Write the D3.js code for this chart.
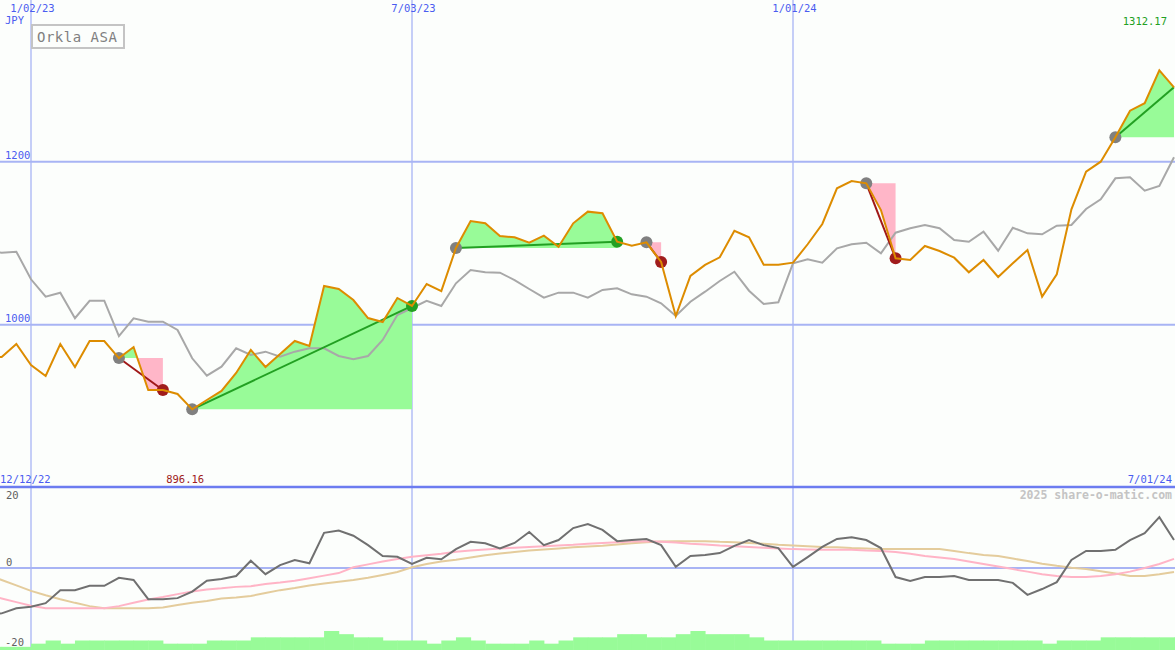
<!DOCTYPE html>
<html><head><meta charset="utf-8">
<script src="https://cdn.jsdelivr.net/npm/d3@7"></script>
<style>
html,body{margin:0;padding:0;background:#fcfefc;}
svg{display:block;font-family:"DejaVu Sans Mono",monospace;}
</style></head><body>
<svg id="c" width="1175" height="650"></svg>
<script>
// ---------- DATA (weekly, Mondays, 12/12/22 .. 7/01/24) ----------
const firstWeek = "2022-12-12";
const lastWeek = "2024-07-01";
const price = [960, 960.4, 976.3, 950.6, 937.1, 976.3, 948.1, 980.0, 980.0, 959.1,
  972.6, 919.9, 919.9, 915.0, 896.16, 907.6, 918.7, 940.8, 969.0, 948.1,
  964.0, 980.0, 973.9, 1047.5, 1043.8, 1030.3, 1008.2, 1003.3, 1032.8, 1023.0,
  1049.9, 1041.3, 1094.1, 1127.2, 1124.4, 1108.8, 1107.2, 1100.6, 1109.2, 1095.7,
  1124.4, 1138.7, 1136.7, 1101.8, 1096.9, 1101.1, 1076.9, 1010.7, 1059.8, 1073.3,
  1082.7, 1115.3, 1107.2, 1073.6, 1073.6, 1076.1, 1098.7, 1123.6, 1167.4, 1176.3,
  1173.5, 1140.7, 1081.5, 1079.4, 1096.6, 1090.4, 1082.2, 1064.3, 1079.4, 1058.5,
  1075.3, 1091.7, 1034.4, 1061.8, 1141.6, 1187.7, 1200.0, 1229.9, 1262.6, 1271.7,
  1312.17, 1291.3];
const benchmark = [1090, 1088.3, 1089.6, 1055.7, 1034.4, 1039.3, 1007.9, 1029.4, 1029.4, 986.1,
  1007.9, 1003.7, 1003.7, 993.5, 958.8, 937.4, 948.5, 971.0, 962.8, 966.9,
  960.7, 966.9, 971.0, 971.0, 961.6, 957.5, 961.6, 981.2, 1011.9, 1020.5,
  1029.4, 1022.9, 1050.8, 1067.1, 1064.3, 1063.8, 1054.8, 1043.8, 1033.1, 1039.3,
  1039.3, 1033.1, 1042.6, 1044.7, 1037.3, 1034.4, 1026.3, 1010.7, 1028.2, 1040.5,
  1053.6, 1065.0, 1041.7, 1025.4, 1027.5, 1075.3, 1080.2, 1076.1, 1093.7, 1098.7,
  1100.6, 1087.6, 1112.9, 1118.3, 1122.3, 1118.3, 1103.9, 1101.8, 1114.1, 1090.8,
  1119.0, 1112.1, 1110.9, 1121.5, 1122.3, 1142.0, 1153.9, 1179.6, 1180.9, 1164.4,
  1170.2, 1205.4];
const momentum = [-13, -12.5, -11.1, -10.7, -9.7, -6.1, -6.1, -4.9, -4.9, -2.7,
  -3.3, -8.6, -8.6, -8.3, -6.5, -3.5, -3.0, -2.2, 2.0, -1.7,
  0.8, 2.2, 1.3, 9.7, 10.3, 8.9, 6.3, 3.3, 3.1, 1.1,
  2.8, 2.4, 5.2, 7.2, 6.8, 5.4, 6.9, 9.9, 6.3, 7.7,
  11.0, 12.1, 10.5, 7.4, 7.7, 8.0, 6.3, 0.3, 3.3, 3.6,
  4.1, 6.1, 7.7, 6.3, 5.5, 0.3, 3.0, 5.8, 8.0, 8.5,
  7.7, 5.5, -2.5, -3.6, -2.5, -2.5, -2.2, -3.3, -3.3, -3.3,
  -4.1, -7.4, -5.8, -3.9, 2.2, 4.7, 4.7, 5.0, 7.7, 9.6,
  14.0, 7.7];
const maFast = [-7.4, -8.4, -9.4, -10.4, -11.1, -11.1, -11.1, -11.1, -11.1, -10.5,
  -9.6, -8.7, -8.0, -7.2, -6.5, -5.9, -5.6, -5.2, -5.0, -4.4,
  -4.0, -3.5, -2.8, -2.1, -1.4, 0.2, 1.0, 1.8, 2.5, 3.1,
  3.5, 3.9, 4.5, 4.8, 5.1, 5.4, 5.6, 5.8, 6.0, 6.2,
  6.4, 6.7, 6.9, 7.1, 7.3, 7.4, 7.2, 7.0, 6.7, 6.5,
  6.2, 6.0, 5.8, 5.6, 5.4, 5.2, 5.1, 5.0, 5.0, 5.0,
  4.8, 4.7, 4.4, 3.9, 3.3, 2.9, 2.5, 1.8, 1.1, 0.4,
  -0.3, -1.0, -1.7, -2.2, -2.5, -2.5, -2.2, -1.7, -1.0, 0,
  1.1, 2.5];
const maSlow = [-1.8, -3.3, -4.8, -6.3, -7.5, -8.6, -9.6, -10.5, -11.1, -11.1,
  -11.1, -11.1, -10.9, -10.2, -9.6, -9.1, -8.4, -8.1, -7.7, -6.9,
  -6.1, -5.5, -4.8, -4.3, -3.8, -3.3, -2.7, -1.9, -1.1, 0.2,
  1.1, 1.8, 2.3, 2.9, 3.5, 4.0, 4.4, 4.8, 5.1, 5.4,
  5.7, 5.9, 6.1, 6.5, 6.8, 7.1, 7.3, 7.4, 7.4, 7.4,
  7.2, 7.1, 6.9, 6.7, 6.4, 6.2, 6.0, 5.8, 5.7, 5.5,
  5.4, 5.2, 5.2, 5.2, 5.2, 5.2, 4.7, 4.1, 3.6, 3.3,
  2.6, 1.9, 1.2, 0.6, 0.1, -0.3, -0.9, -1.5, -2.2, -2.2,
  -1.7, -1.1];
const volume = [1, 1, 1, 2, 3, 2, 3, 3, 3, 3,
  3, 3, 2, 2, 2, 3, 3, 3, 4, 4,
  4, 4, 4, 6, 5, 4, 4, 3, 3, 3,
  2, 3, 4, 3, 2, 2, 2, 3, 2, 3,
  4, 4, 4, 5, 5, 4, 4, 5, 6, 5,
  5, 5, 4, 3, 3, 3, 3, 3, 3, 3,
  3, 2, 2, 2, 3, 3, 3, 3, 3, 3,
  3, 3, 2, 3, 3, 3, 4, 4, 4, 4,
  4, 4];
const tradeEntries = ["2023-02-13", "2023-03-20", "2023-07-24", "2023-10-23", "2024-02-05", "2024-06-03"];
const tradeExits   = ["2023-03-06", "2023-07-03", "2023-10-09", "2023-10-30", "2024-02-19", null];
const dateTicks = ["2023-01-02", "2023-07-03", "2024-01-01"];
const priceTicks = [1000, 1200];
const lowerTicks = [20, 0, -20];
const title = "Orkla ASA";
const currency = "JPY";

// ---------- SETUP ----------
const W = 1175, H = 650;
const svg = d3.select("#c");
const parse = d3.utcParse("%Y-%m-%d");
const fmt = d3.utcFormat("%-m/%d/%y");
const dates = d3.utcMonday.range(parse(firstWeek), d3.utcDay.offset(parse(lastWeek), 1));
const x = d3.scaleUtc().domain([parse("2023-01-02"), parse("2024-01-01")]).range([31, 793]);
const y = d3.scaleLinear().domain([1000, 1200]).range([324.7, 161.7]);
const ly = d3.scaleLinear().domain([-20, 20]).range([640.6, 495.4]);
const vy = d3.scaleLinear().domain([0, 6]).range([650, 631]);

const BLUE_GRID = "#a8b4f4", BLUE_TXT = "#4a5cf0";

svg.append("rect").attr("width", W).attr("height", H).attr("fill", "#fcfefc");
const defs = svg.append("defs");
defs.append("clipPath").attr("id", "clipTop").append("rect").attr("x", 0).attr("y", 0).attr("width", W).attr("height", 486);
defs.append("clipPath").attr("id", "clipBot").append("rect").attr("x", 0).attr("y", 488).attr("width", W).attr("height", 162);

// gridlines
const grid = svg.append("g");
grid.selectAll("line.v").data(dateTicks).join("line")
  .attr("x1", d => x(parse(d))).attr("x2", d => x(parse(d)))
  .attr("y1", 0).attr("y2", H).attr("stroke", BLUE_GRID).attr("stroke-width", 1.3);
grid.selectAll("line.h").data(priceTicks).join("line")
  .attr("x1", 0).attr("x2", W).attr("y1", d => y(d)).attr("y2", d => y(d))
  .attr("stroke", BLUE_GRID).attr("stroke-width", 2);
grid.append("line").attr("x1", 0).attr("x2", W).attr("y1", ly(0)).attr("y2", ly(0))
  .attr("stroke", BLUE_GRID).attr("stroke-width", 2);

// ---------- BOTTOM PANEL ----------
const botG = svg.append("g").attr("clip-path", "url(#clipBot)");
botG.selectAll("rect.vol").data(volume).join("rect")
  .attr("x", (d, i) => x(dates[i]))
  .attr("width", (d, i) => (i < dates.length - 1 ? x(dates[i + 1]) - x(dates[i]) : 20) + 0.5)
  .attr("y", d => vy(d)).attr("height", d => 650 - vy(d))
  .attr("fill", "#98fb98");
const lline = arr => d3.line().x((d, i) => x(dates[i])).y(d => ly(d))(arr);
botG.append("path").attr("d", lline(maSlow)).attr("fill", "none").attr("stroke", "#e4cc9c").attr("stroke-width", 2);
botG.append("path").attr("d", lline(maFast)).attr("fill", "none").attr("stroke", "#ffb4c6").attr("stroke-width", 2);
botG.append("path").attr("d", lline(momentum)).attr("fill", "none").attr("stroke", "#707070").attr("stroke-width", 2);

// ---------- TOP PANEL ----------
const topG = svg.append("g").attr("clip-path", "url(#clipTop)");
const idx = s => dates.findIndex(d => +d === +parse(s));

function tradePoints(i0, i1, level) {
  const pts = [];
  for (let j = i0; j <= i1; j++) {
    pts.push({t: +dates[j], v: price[j]});
    if (j < i1) {
      const a = price[j] - level, b = price[j + 1] - level;
      if (a * b < 0) {
        const f = a / (a - b);
        pts.push({t: +dates[j] + (dates[j + 1] - dates[j]) * f, v: level});
      }
    }
  }
  return pts;
}
const trades = tradeEntries.map((e, n) => {
  const i0 = idx(e);
  const i1 = tradeExits[n] ? idx(tradeExits[n]) : dates.length - 1;
  return {i0, i1, open: !tradeExits[n], level: price[i0]};
});
trades.forEach(tr => {
  const pts = tradePoints(tr.i0, tr.i1, tr.level);
  const areaUp = d3.area().x(d => x(new Date(d.t))).y0(y(tr.level)).y1(d => y(Math.max(d.v, tr.level)));
  const areaDn = d3.area().x(d => x(new Date(d.t))).y0(y(tr.level)).y1(d => y(Math.min(d.v, tr.level)));
  topG.append("path").attr("d", areaUp(pts)).attr("fill", "#98fb98");
  topG.append("path").attr("d", areaDn(pts)).attr("fill", "#ffb6c8");
});

const mline = arr => d3.line().x((d, i) => x(dates[i])).y(d => y(d))(arr);
topG.append("path").attr("d", mline(benchmark)).attr("fill", "none").attr("stroke", "#a8a8a8").attr("stroke-width", 2);

trades.forEach(tr => {
  const win = price[tr.i1] >= tr.level;
  topG.append("line")
    .attr("x1", x(dates[tr.i0])).attr("y1", y(tr.level))
    .attr("x2", x(dates[tr.i1])).attr("y2", y(price[tr.i1]))
    .attr("stroke", win ? "#22a022" : "#a01818").attr("stroke-width", 2);
  topG.append("circle").attr("cx", x(dates[tr.i0])).attr("cy", y(tr.level)).attr("r", 6).attr("fill", "#808080");
  if (!tr.open) {
    topG.append("circle").attr("cx", x(dates[tr.i1])).attr("cy", y(price[tr.i1])).attr("r", 6)
      .attr("fill", win ? "#22a022" : "#a01c1c");
  }
});
topG.append("path").attr("d", mline(price)).attr("fill", "none").attr("stroke", "#dd8c00").attr("stroke-width", 2);

// separator
svg.append("line").attr("x1", 0).attr("x2", W).attr("y1", 487).attr("y2", 487).attr("stroke", "#6c7cf0").attr("stroke-width", 2.5);

// ---------- TEXT ----------
const txt = svg.append("g").attr("font-size", 10.5);
txt.selectAll("text.d").data(dateTicks).join("text")
  .attr("x", d => x(parse(d)) + 1.5).attr("y", 12).attr("text-anchor", "middle")
  .attr("fill", BLUE_TXT).text(d => fmt(parse(d)));
txt.append("text").attr("x", 5).attr("y", 24).attr("fill", BLUE_TXT).text(currency);
txt.selectAll("text.p").data(priceTicks).join("text")
  .attr("x", 5).attr("y", d => y(d) - 3).attr("fill", BLUE_TXT).text(d => d);
const maxI = d3.maxIndex(price), minI = d3.minIndex(price);
txt.append("text").attr("x", 1167).attr("y", 25).attr("text-anchor", "end").attr("fill", "#22a022").text(d3.format(".2f")(price[maxI]));
txt.append("text").attr("x", x(dates[minI]) - 7).attr("y", 483).attr("text-anchor", "middle").attr("fill", "#a02020").text(d3.format(".2f")(price[minI]));
txt.append("text").attr("x", 0).attr("y", 483).attr("fill", BLUE_TXT).text(fmt(dates[0]));
txt.append("text").attr("x", 1172).attr("y", 483).attr("text-anchor", "end").attr("fill", BLUE_TXT).text(fmt(dates[dates.length - 1]));
txt.append("text").attr("x", 1172).attr("y", 499).attr("text-anchor", "end").attr("fill", "#c4c4c4")
  .attr("font-size", 11.5).attr("font-weight", "bold").text("2025 share-o-matic.com");
txt.selectAll("text.l").data(lowerTicks).join("text")
  .attr("x", d => d < 0 ? 5 : 6).attr("y", d => d === 20 ? 499 : d === 0 ? 566 : 646)
  .attr("fill", "#606060").text(d => d);

// title box
svg.append("rect").attr("x", 32).attr("y", 25).attr("width", 92).attr("height", 23)
  .attr("fill", "#fcfefc").attr("stroke", "#c4c4c4").attr("stroke-width", 2);
svg.append("text").attr("x", 37).attr("y", 42).attr("font-size", 14).attr("letter-spacing", 0.5)
  .attr("fill", "#808080").text(title);
</script>
</body></html>
